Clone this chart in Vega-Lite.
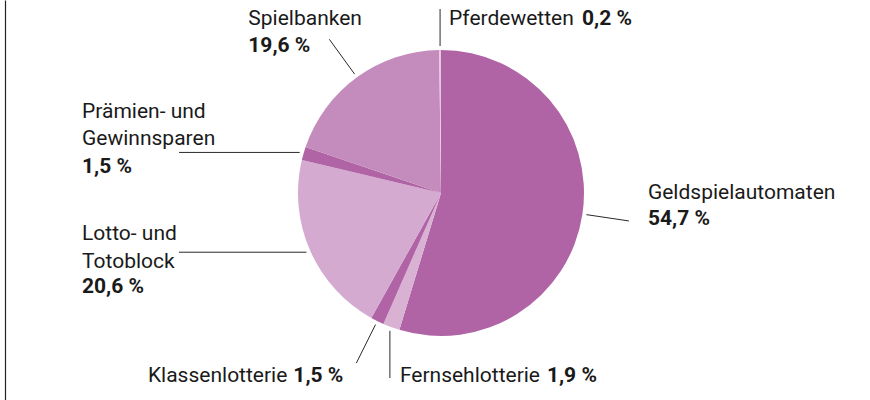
{
  "$schema": "https://vega.github.io/schema/vega-lite/v6.json",
  "width": 870,
  "height": 400,
  "autosize": "none",
  "padding": 0,
  "background": "white",
  "config": {
    "view": {"stroke": null},
    "axisY": {"domain": true, "ticks": false, "labels": false, "grid": false, "domainColor": "#222222", "domainWidth": 1.2, "offset": -5},
    "text": {"font": "Roboto", "fontSize": 21, "color": "#1a1a1a", "lineHeight": 27.5, "lineBreak": "\n", "baseline": "alphabetic"}
  },
  "data": {
    "values": [
      {"ordnung": 1, "kategorie": "Geldspielautomaten", "name": "Geldspielautomaten", "anteil": 54.7, "prozent": "54,7 %"},
      {"ordnung": 2, "kategorie": "Fernsehlotterie", "name": "Fernsehlotterie", "anteil": 1.9, "prozent": "1,9 %"},
      {"ordnung": 3, "kategorie": "Klassenlotterie", "name": "Klassenlotterie", "anteil": 1.5, "prozent": "1,5 %"},
      {"ordnung": 4, "kategorie": "Lotto- und Totoblock", "name": "Lotto- und\nTotoblock", "anteil": 20.6, "prozent": "20,6 %"},
      {"ordnung": 5, "kategorie": "Prämien- und Gewinnsparen", "name": "Prämien- und\nGewinnsparen", "anteil": 1.5, "prozent": "1,5 %"},
      {"ordnung": 6, "kategorie": "Spielbanken", "name": "Spielbanken", "anteil": 19.6, "prozent": "19,6 %"},
      {"ordnung": 7, "kategorie": "Pferdewetten", "name": "Pferdewetten", "anteil": 0.2, "prozent": "0,2 %"}
    ]
  },
  "transform": [
    {"stack": "anteil", "groupby": [], "sort": [{"field": "ordnung", "order": "ascending"}], "as": ["s0", "s1"]},
    {"calculate": "PI * (datum.s0 + datum.s1) / 100", "as": "m"},
    {"calculate": "sin(datum.m)", "as": "sn"},
    {"calculate": "cos(datum.m)", "as": "cs"},
    {"calculate": "147 * datum.sn", "as": "xi"},
    {"calculate": "147 * datum.cs", "as": "yi"},
    {"calculate": "datum.sn < -0.7 ? 'h' : (abs(datum.cs) > 0.92 ? 'v' : 'r')", "as": "typ"},
    {"calculate": "datum.typ == 'h' ? -262 : (datum.typ == 'v' ? datum.xi : 190 * datum.sn)", "as": "xo"},
    {"calculate": "datum.typ == 'h' ? datum.yi : (datum.typ == 'v' ? (datum.cs > 0 ? 184 : -185) : 190 * datum.cs)", "as": "yo"}
  ],
  "layer": [
    {
      "mark": {"type": "arc", "outerRadius": 143, "stroke": null},
      "encoding": {
        "x": {"datum": 0, "type": "quantitative", "scale": {"domain": [-441, 429], "nice": false, "zero": false}, "axis": null},
        "y": {"datum": 0, "type": "quantitative", "scale": {"domain": [-207, 193], "nice": false, "zero": false}, "title": null},
        "theta": {"field": "s0", "type": "quantitative", "scale": {"domain": [0, 100]}},
        "theta2": {"field": "s1"},
        "color": {"field": "kategorie", "type": "nominal", "legend": null,
          "scale": {"domain": ["Geldspielautomaten", "Fernsehlotterie", "Klassenlotterie", "Lotto- und Totoblock", "Prämien- und Gewinnsparen", "Spielbanken", "Pferdewetten"],
                    "range": ["#b064a6", "#d8b1d3", "#b064a6", "#d4aad0", "#b064a6", "#c48cbd", "#e4c8e0"]}}
      }
    },
    {
      "mark": {"type": "rule", "color": "#2a2a2a", "strokeWidth": 1},
      "encoding": {
        "x": {"field": "xi", "type": "quantitative", "scale": {"domain": [-441, 429], "nice": false, "zero": false}, "axis": null},
        "y": {"field": "yi", "type": "quantitative", "scale": {"domain": [-207, 193], "nice": false, "zero": false}, "title": null},
        "x2": {"field": "xo"},
        "y2": {"field": "yo"}
      }
    },
    {
      "transform": [{"filter": "datum.ordnung == 1"}],
      "layer": [
        {"mark": {"type": "text", "align": "left", "dx": 19, "dy": -22}, "encoding": {"text": {"field": "name"}}},
        {"mark": {"type": "text", "align": "left", "dx": 19, "dy": 4, "fontWeight": "bold"}, "encoding": {"text": {"field": "prozent"}}}
      ],
      "encoding": {
        "x": {"field": "xo", "type": "quantitative", "scale": {"domain": [-441, 429], "nice": false, "zero": false}, "axis": null},
        "y": {"field": "yo", "type": "quantitative", "scale": {"domain": [-207, 193], "nice": false, "zero": false}, "title": null}
      }
    },
    {
      "transform": [{"filter": "datum.ordnung == 2"}],
      "layer": [
        {"mark": {"type": "text", "align": "left", "dx": 10, "dy": 4}, "encoding": {"text": {"field": "name"}}},
        {"mark": {"type": "text", "align": "left", "dx": 157, "dy": 4, "fontWeight": "bold"}, "encoding": {"text": {"field": "prozent"}}}
      ],
      "encoding": {
        "x": {"field": "xo", "type": "quantitative", "scale": {"domain": [-441, 429], "nice": false, "zero": false}, "axis": null},
        "y": {"field": "yo", "type": "quantitative", "scale": {"domain": [-207, 193], "nice": false, "zero": false}, "title": null}
      }
    },
    {
      "transform": [{"filter": "datum.ordnung == 3"}],
      "layer": [
        {"mark": {"type": "text", "align": "right", "dx": -69, "dy": 19}, "encoding": {"text": {"field": "name"}}},
        {"mark": {"type": "text", "align": "left", "dx": -63, "dy": 19, "fontWeight": "bold"}, "encoding": {"text": {"field": "prozent"}}}
      ],
      "encoding": {
        "x": {"field": "xo", "type": "quantitative", "scale": {"domain": [-441, 429], "nice": false, "zero": false}, "axis": null},
        "y": {"field": "yo", "type": "quantitative", "scale": {"domain": [-207, 193], "nice": false, "zero": false}, "title": null}
      }
    },
    {
      "transform": [{"filter": "datum.ordnung == 4"}],
      "layer": [
        {"mark": {"type": "text", "align": "left", "dx": -97, "dy": -12}, "encoding": {"text": {"field": "name"}}},
        {"mark": {"type": "text", "align": "left", "dx": -97, "dy": 41, "fontWeight": "bold"}, "encoding": {"text": {"field": "prozent"}}}
      ],
      "encoding": {
        "x": {"field": "xo", "type": "quantitative", "scale": {"domain": [-441, 429], "nice": false, "zero": false}, "axis": null},
        "y": {"field": "yo", "type": "quantitative", "scale": {"domain": [-207, 193], "nice": false, "zero": false}, "title": null}
      }
    },
    {
      "transform": [{"filter": "datum.ordnung == 5"}],
      "layer": [
        {"mark": {"type": "text", "align": "left", "dx": -97, "dy": -34.5}, "encoding": {"text": {"field": "name"}}},
        {"mark": {"type": "text", "align": "left", "dx": -97, "dy": 20.5, "fontWeight": "bold"}, "encoding": {"text": {"field": "prozent"}}}
      ],
      "encoding": {
        "x": {"field": "xo", "type": "quantitative", "scale": {"domain": [-441, 429], "nice": false, "zero": false}, "axis": null},
        "y": {"field": "yo", "type": "quantitative", "scale": {"domain": [-207, 193], "nice": false, "zero": false}, "title": null}
      }
    },
    {
      "transform": [{"filter": "datum.ordnung == 6"}],
      "layer": [
        {"mark": {"type": "text", "align": "left", "dx": -81, "dy": -14}, "encoding": {"text": {"field": "name"}}},
        {"mark": {"type": "text", "align": "left", "dx": -81, "dy": 13, "fontWeight": "bold"}, "encoding": {"text": {"field": "prozent"}}}
      ],
      "encoding": {
        "x": {"field": "xo", "type": "quantitative", "scale": {"domain": [-441, 429], "nice": false, "zero": false}, "axis": null},
        "y": {"field": "yo", "type": "quantitative", "scale": {"domain": [-207, 193], "nice": false, "zero": false}, "title": null}
      }
    },
    {
      "transform": [{"filter": "datum.ordnung == 7"}],
      "layer": [
        {"mark": {"type": "text", "align": "left", "dx": 9, "dy": 16}, "encoding": {"text": {"field": "name"}}},
        {"mark": {"type": "text", "align": "left", "dx": 142, "dy": 16, "fontWeight": "bold"}, "encoding": {"text": {"field": "prozent"}}}
      ],
      "encoding": {
        "x": {"field": "xo", "type": "quantitative", "scale": {"domain": [-441, 429], "nice": false, "zero": false}, "axis": null},
        "y": {"field": "yo", "type": "quantitative", "scale": {"domain": [-207, 193], "nice": false, "zero": false}, "title": null}
      }
    }
  ]
}
